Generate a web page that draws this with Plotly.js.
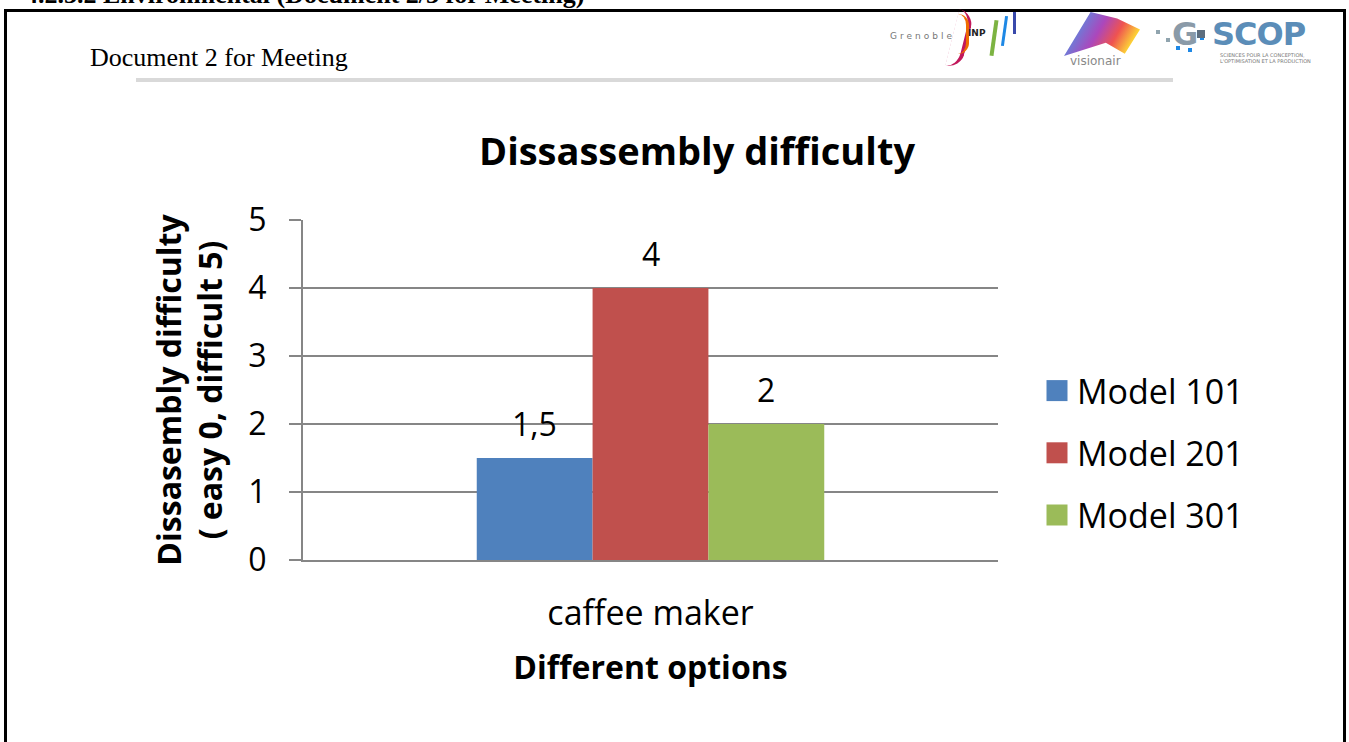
<!DOCTYPE html>
<html>
<head>
<meta charset="utf-8">
<script src="https://cdn.plot.ly/plotly-3.0.1.min.js"></script>
<style>
  body { margin: 0; background: #fff; width: 1349px; height: 742px; overflow: hidden; position: relative; }
  .heading { position: absolute; left: 25px; top: -19px; font: bold 26px "Liberation Serif", serif; line-height: 28px; white-space: nowrap; color: #000; }
  .frame { position: absolute; left: 4px; top: 9px; width: 1336px; height: 800px; border: 3px solid #000; border-bottom: none; }
  .doctitle { position: absolute; left: 90px; top: 43px; font: 26px "Liberation Serif", serif; color: #000; white-space: nowrap; }
  .rule { position: absolute; left: 136px; top: 78px; width: 1037px; height: 4px; background: #d9d9d9; }
  .logo { position: absolute; white-space: nowrap; }
  #chart { position: absolute; left: 0; top: 0; width: 1349px; height: 742px; }
</style>
</head>
<body>
<div class="heading">4.2.3.2 Environmental (Document 2/3 for Meeting)</div>
<div class="frame"></div>
<div class="doctitle">Document 2 for Meeting</div>
<div class="rule"></div>

<!-- rough stand-ins for the three logos -->
<div class="logo" style="left:890px;top:31px;font:9px 'DejaVu Sans';letter-spacing:3px;color:#777;">Grenoble</div>
<div class="logo" style="left:952px;top:10px;width:12px;height:58px;border-right:4px solid #c2185b;border-radius:0 40px 40px 0;transform:rotate(14deg);"></div>
<div class="logo" style="left:958px;top:14px;width:8px;height:40px;border-right:3px solid #ef6c00;border-radius:0 30px 30px 0;"></div>
<div class="logo" style="left:968px;top:28px;font:bold 9px 'DejaVu Sans';color:#222;">INP</div>
<div class="logo" style="left:992px;top:20px;width:4px;height:36px;background:#7cb342;transform:rotate(8deg);"></div>
<div class="logo" style="left:1003px;top:16px;width:3px;height:30px;background:#1e88e5;transform:rotate(8deg);"></div>
<div class="logo" style="left:1013px;top:12px;width:3px;height:22px;background:#3949ab;"></div>
<div class="logo" style="left:1064px;top:12px;width:76px;height:44px;background:linear-gradient(120deg,#29b6f6 0%,#ab47bc 45%,#ef5350 65%,#fdd835 85%,#43a047 100%);clip-path:polygon(0 100%,35% 0,70% 15%,100% 40%,80% 95%,55% 70%);"></div>
<div class="logo" style="left:1070px;top:54px;font:12px 'DejaVu Sans';color:#888;">visionair</div>
<div class="logo" style="left:1156px;top:30px;width:4px;height:4px;background:#90a4ae;box-shadow:10px 8px 0 #90a4ae,20px 16px 0 #1e88e5,32px 18px 0 #1e88e5,44px 6px 0 #1e88e5;"></div>
<div class="logo" style="left:1172px;top:15px;font:bold 32px 'DejaVu Sans';color:#8a9aa8;letter-spacing:-1px;">G</div>
<div class="logo" style="left:1197px;top:30px;width:8px;height:8px;background:#5d6d7e;"></div>
<div class="logo" style="left:1212px;top:15px;font:bold 32px 'DejaVu Sans';color:#5b8db8;letter-spacing:-1px;">SCOP</div>
<div class="logo" style="left:1220px;top:52px;font:5px 'DejaVu Sans';color:#777;line-height:6px;">SCIENCES POUR LA CONCEPTION,<br>L'OPTIMISATION ET LA PRODUCTION</div>

<div id="chart"></div>

<script>
// chart values
var categories = ["caffee maker"];
var seriesNames = ["Model 101", "Model 201", "Model 301"];
var seriesValues = [[1.5], [4], [2]];
var seriesColors = ["#4F81BD", "#C0504D", "#9BBB59"];
var yTickValues = [0, 1, 2, 3, 4, 5];

var barGap = 0.5;
var plotLeft = 303, plotRight = 998, plotTop = 220, plotBottom = 560;
var plotWidth = plotRight - plotLeft;
var barPx = plotWidth * (1 - barGap) / seriesNames.length;

var fontFamily = "Open Sans, sans-serif";

var traces = seriesNames.map(function (name, i) {
  return {
    x: categories,
    y: seriesValues[i],
    type: "bar",
    name: name,
    legendgroup: name,
    marker: { color: seriesColors[i] },
    hoverinfo: "none"
  };
});

// value labels above each bar (comma as decimal mark)
var labels = [];
seriesNames.forEach(function (name, i) {
  categories.forEach(function (cat, j) {
    var v = seriesValues[i][j];
    labels.push({
      x: cat,
      y: v,
      xref: "x",
      yref: "y",
      text: String(v).replace(".", ","),
      showarrow: false,
      xshift: (i - (seriesNames.length - 1) / 2) * barPx,
      yshift: 35,
      yanchor: "middle",
      font: { family: fontFamily, size: 32, color: "#000" }
    });
  });
});

var layout = {
  width: 1349,
  height: 742,
  paper_bgcolor: "rgba(0,0,0,0)",
  plot_bgcolor: "rgba(0,0,0,0)",
  margin: { l: plotLeft, r: 1349 - plotRight, t: plotTop, b: 742 - plotBottom, pad: 0 },
  separators: ",.",
  barmode: "group",
  bargap: barGap,
  bargroupgap: 0,
  font: { family: fontFamily, color: "#000" },
  title: {
    text: "<b>Dissassembly difficulty</b>",
    font: { family: fontFamily, size: 38, color: "#000" },
    xref: "paper",
    x: (697 - plotLeft) / plotWidth,
    xanchor: "center",
    yref: "container",
    y: 1 - 152 / 742,
    yanchor: "middle"
  },
  xaxis: {
    type: "category",
    showline: true,
    linecolor: "#868686",
    linewidth: 2,
    ticks: "",
    ticklabelstandoff: 22,
    tickfont: { family: fontFamily, size: 34, color: "#000" },
    title: {
      text: "<b>Different options</b>",
      font: { family: fontFamily, size: 32, color: "#000" },
      standoff: 23
    },
    automargin: false
  },
  yaxis: {
    range: [0, 5],
    tickvals: yTickValues,
    showline: true,
    linecolor: "#868686",
    linewidth: 2,
    showgrid: true,
    gridcolor: "#868686",
    gridwidth: 2,
    zeroline: false,
    ticks: "outside",
    ticklen: 12,
    tickwidth: 2,
    tickcolor: "#868686",
    ticklabelstandoff: 16,
    tickfont: { family: fontFamily, size: 32, color: "#000" },
    title: {
      text: "<b>Dissasembly difficulty<br>( easy 0, difficult 5)</b>",
      font: { family: fontFamily, size: 32, color: "#000" },
      standoff: 16
    },
    automargin: false
  },
  legend: {
    x: (1037 - plotLeft) / plotWidth,
    xanchor: "left",
    y: (plotBottom - 362) / (plotBottom - plotTop),
    yanchor: "top",
    traceorder: "grouped",
    tracegroupgap: 15,
    bgcolor: "rgba(0,0,0,0)",
    font: { family: fontFamily, size: 34, color: "#000" }
  },
  annotations: labels,
  hovermode: false
};

Plotly.newPlot("chart", traces, layout, { staticPlot: true, displayModeBar: false }).then(function (gd) {
  // Excel-style bigger legend squares
  gd.querySelectorAll(".legend .legendpoints path").forEach(function (p) {
    p.setAttribute("d", "M10.5,10.5H-10.5V-10.5H10.5Z");
  });
});
</script>
</body>
</html>
